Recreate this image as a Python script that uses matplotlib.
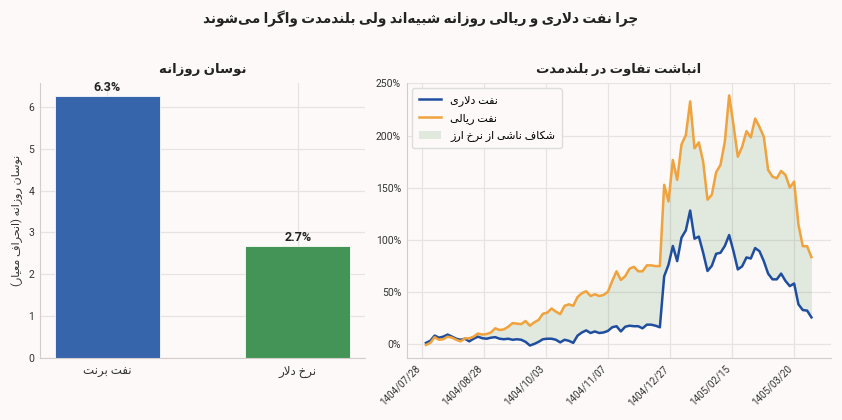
import matplotlib
matplotlib.use('Agg')
import matplotlib.pyplot as plt
import numpy as np
from matplotlib.ticker import PercentFormatter
from matplotlib.patches import Patch
from matplotlib.lines import Line2D

# matplotlib has no complex text layout, so persian letters are
# joined by hand with the presentation forms and then reversed
FORMS = {
    # isolated, final, initial, medial
    'ا': (0xFE8D, 0xFE8E, None, None),
    'ب': (0xFE8F, 0xFE90, 0xFE91, 0xFE92),
    'پ': (0xFB56, 0xFB57, 0xFB58, 0xFB59),
    'ت': (0xFE95, 0xFE96, 0xFE97, 0xFE98),
    'چ': (0xFB7A, 0xFB7B, 0xFB7C, 0xFB7D),
    'ح': (0xFEA1, 0xFEA2, 0xFEA3, 0xFEA4),
    'خ': (0xFEA5, 0xFEA6, 0xFEA7, 0xFEA8),
    'د': (0xFEA9, 0xFEAA, None, None),
    'ر': (0xFEAD, 0xFEAE, None, None),
    'ز': (0xFEAF, 0xFEB0, None, None),
    'ژ': (0xFB8A, 0xFB8B, None, None),
    'س': (0xFEB1, 0xFEB2, 0xFEB3, 0xFEB4),
    'ش': (0xFEB5, 0xFEB6, 0xFEB7, 0xFEB8),
    'ع': (0xFEC9, 0xFECA, 0xFECB, 0xFECC),
    'ف': (0xFED1, 0xFED2, 0xFED3, 0xFED4),
    'ک': (0xFB8E, 0xFB8F, 0xFB90, 0xFB91),
    'گ': (0xFB92, 0xFB93, 0xFB94, 0xFB95),
    'ل': (0xFEDD, 0xFEDE, 0xFEDF, 0xFEE0),
    'م': (0xFEE1, 0xFEE2, 0xFEE3, 0xFEE4),
    'ن': (0xFEE5, 0xFEE6, 0xFEE7, 0xFEE8),
    'ه': (0xFEE9, 0xFEEA, 0xFEEB, 0xFEEC),
    'و': (0xFEED, 0xFEEE, None, None),
    'ی': (0xFBFC, 0xFBFD, 0xFBFE, 0xFBFF),
}


def joins_next(ch):
    f = FORMS.get(ch)
    return f is not None and f[2] is not None


def fa(text):
    out = []
    i = 0
    while i < len(text):
        c = text[i]
        if c not in FORMS:
            if c != '\u200c':
                out.append(c)
            i += 1
            continue
        prev_j = i > 0 and joins_next(text[i - 1])
        nxt = text[i + 1] if i + 1 < len(text) else ''
        if c == 'ل' and nxt == 'ا':
            out.append(chr(0xFEFC if prev_j else 0xFEFB))
            i += 2
            continue
        next_j = joins_next(c) and nxt in FORMS
        iso, fin, ini, med = FORMS[c]
        if prev_j and next_j:
            out.append(chr(med))
        elif prev_j:
            out.append(chr(fin))
        elif next_j:
            out.append(chr(ini))
        else:
            out.append(chr(iso))
        i += 1
    s = ''.join(reversed(out))
    return s.translate(str.maketrans('()', ')('))


# data
assets = ['نفت برنت', 'نرخ دلار']
daily_vol = [6.26, 2.68]

oil_usd = [1, 3, 8, 6, 7, 9, 7, 5, 4, 5,
           2.5, 5, 7, 5.5, 5, 6, 6.5, 5, 4.5, 5,
           4, 4.5, 4, 2, -1.5, 0, 2, 4.5, 5, 5,
           4, 1.5, 4, 3, 1, 8, 11, 13, 10.5, 12,
           10.5, 11, 12.5, 16, 17, 12, 16.5, 17.5, 17, 17,
           15, 18.5, 18.5, 17.5, 16, 65, 76, 94, 79.5, 102,
           109, 128, 101, 103, 87.5, 70, 75, 86.5, 87.5, 94,
           104.5, 89, 71.5, 74.5, 83, 82, 92, 89, 79.5, 67.5,
           62, 62, 67.5, 60.5, 55.5, 58, 38, 32.5, 32, 25.5]
oil_rial = [-1, 1, 6.5, 4, 4.5, 7, 6, 4, 2.5, 5.4,
            5.4, 7, 10, 9, 9.5, 11, 15, 13.4, 14, 16.5,
            20, 19.5, 19, 22, 17.5, 20.7, 23, 29, 30, 34,
            31, 28.6, 36.6, 38, 36.6, 45, 48.7, 50.6, 46, 47.7,
            46, 47, 50, 60.4, 69.7, 61.4, 65, 72.2, 74, 69.7,
            69.7, 75.4, 75.4, 74.7, 74.7, 152.7, 136.8, 176.5, 157.4, 191.5,
            200.4, 232.8, 187.7, 193.4, 174.9, 138.4, 143.1, 164.8, 171.8, 194,
            238.5, 210, 179.7, 189.2, 204.2, 198.2, 216.3, 208.3, 198.8, 167,
            160.6, 159, 166, 162.2, 150.1, 155.8, 114.5, 93.8, 93.8, 83.3]
date_ticks = ['1404/07/28', '1404/08/28', '1404/10/03', '1404/11/07',
              '1404/12/27', '1405/02/15', '1405/03/20']

BG = '#fcf9f8'
GRID = '#e7e3e1'
SPINE = '#d2cdcb'
BLUE = '#1f4e9f'
ORANGE = '#f0a23c'

plt.rcParams['font.family'] = ['Roboto', 'DejaVu Sans']
plt.rcParams['axes.unicode_minus'] = False

fig = plt.figure(figsize=(8.42, 4.2), dpi=100, facecolor=BG)
ax1 = fig.add_axes([0.0475, 0.1476, 0.386, 0.655])
ax2 = fig.add_axes([0.483, 0.1476, 0.5036, 0.655])

fig.text(0.5, 0.955, fa('چرا نفت دلاری و ریالی روزانه شبیه‌اند ولی بلندمدت واگرا می‌شوند'),
         ha='center', va='center', fontsize=9.8, fontweight='bold', color='#222222')

for ax in (ax1, ax2):
    ax.set_facecolor(BG)
    ax.grid(True, color=GRID, linewidth=0.9)
    ax.set_axisbelow(True)
    for side in ('top', 'right'):
        ax.spines[side].set_visible(False)
    for side in ('left', 'bottom'):
        ax.spines[side].set_color(SPINE)
    ax.tick_params(length=0, labelsize=7.5, colors='#333333', pad=4)

# left: daily volatility
bars = ax1.bar([fa(a) for a in assets], daily_vol, width=0.55,
               color=['#2b5da8', '#3a8f4e'], alpha=0.95,
               edgecolor='white', linewidth=0.6)
for b, v in zip(bars, daily_vol):
    ax1.text(b.get_x() + b.get_width() / 2, v + 0.04, f'{v:.1f}%',
             ha='center', va='bottom', fontsize=9, fontweight='bold', color='#222222')
ax1.set_title(fa('نوسان روزانه'), fontsize=9.5, fontweight='bold', pad=7, color='#222222')
ax1.set_ylabel(fa('نوسان روزانه (انحراف معیار)'), fontsize=8, color='#333333')
ax1.tick_params(axis='x', labelsize=8.5, pad=5)

# right: cumulative gap
x = np.arange(1, len(oil_usd) + 1)
ax2.plot(x, oil_usd, color=BLUE, linewidth=1.8)
ax2.plot(x, oil_rial, color=ORANGE, linewidth=1.8)
ax2.fill_between(x, oil_usd, oil_rial, color='#2e7d32', alpha=0.13, linewidth=0)
ax2.yaxis.set_major_formatter(PercentFormatter(decimals=0))
ax2.set_yticks([0, 50, 100, 150, 200, 250])
ax2.set_xticks(np.linspace(0, 86, len(date_ticks)))
ax2.set_xticklabels(date_ticks, rotation=45, ha='right', fontsize=7)
ax2.set_title(fa('انباشت تفاوت در بلندمدت'), fontsize=9.5, fontweight='bold', pad=7, color='#222222')

handles = [Line2D([], [], color=BLUE, linewidth=1.8),
           Line2D([], [], color=ORANGE, linewidth=1.8),
           Patch(facecolor='#2e7d32', alpha=0.13)]
labels = [fa('نفت دلاری'), fa('نفت ریالی'), fa('شکاف ناشی از نرخ ارز')]
leg = ax2.legend(handles, labels, loc='upper left', fontsize=8, frameon=True,
                 facecolor=BG, edgecolor='#dddddd', framealpha=1, borderpad=0.6,
                 labelspacing=0.6)

fig.savefig('out.png', dpi=100, facecolor=BG)
